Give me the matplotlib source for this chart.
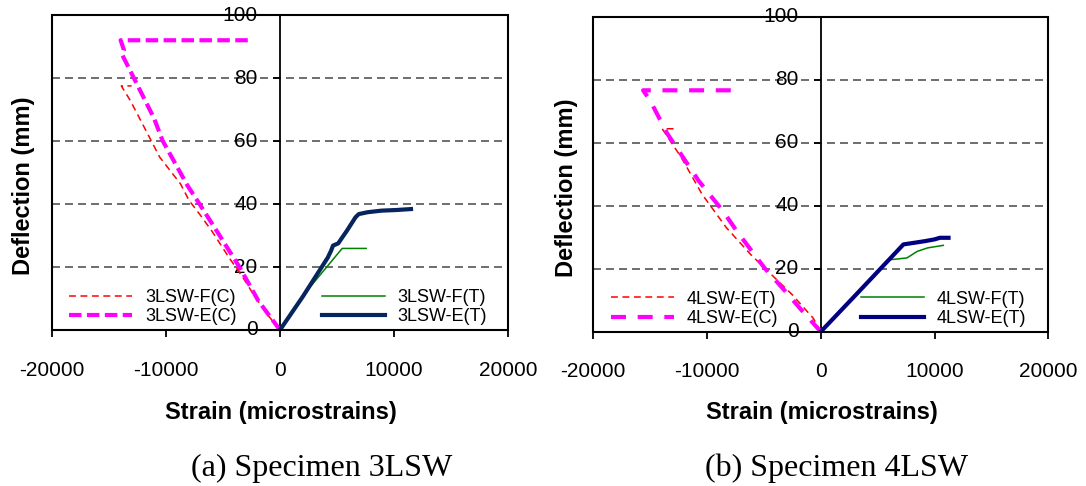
import matplotlib
matplotlib.use("Agg")
import matplotlib.pyplot as plt
from matplotlib.patches import Rectangle

plt.rcParams['font.family'] = ['Liberation Sans', 'DejaVu Sans']

# ---- Specimen 3LSW ----
s3_fc_strain = [0, -1124, -2339, -3250, -4465, -5983, -7046, -7958, -8717, -10540, -11450, -13120, -13900, -13000]
s3_fc_defl = [0, 5.0, 11.4, 16.7, 23.0, 31.5, 36.8, 41.1, 46.4, 54.9, 61.3, 72.9, 77.5, 77.5]
s3_ec_strain = [0, -1883, -3553, -5376, -7046, -8110, -10296, -11030, -12800, -13520, -13810, -13670, -13960, -2400]
s3_ec_defl = [0, 9.2, 20.0, 30.5, 40.0, 45.9, 60.2, 67.2, 80.0, 85.2, 87.3, 88.9, 92.0, 92.0]
s3_ft_strain = [0, 2100, 4600, 5450, 7550]
s3_ft_defl = [0, 11.3, 22.2, 25.9, 25.9]
s3_et_strain = [0, 2000, 4190, 4480, 4647, 5100, 5860, 6620, 6900, 7684, 8900, 10200, 11480]
s3_et_defl = [0, 10.6, 23.0, 25.2, 26.8, 27.5, 31.5, 35.8, 36.8, 37.4, 37.9, 38.1, 38.4]

# ---- Specimen 4LSW ----
s4_et2_strain = [0, -671, -2502, -4333, -6163, -8300, -10435, -12265, -13944, -12570]
s4_et2_defl = [0, 4.3, 11.7, 18.1, 24.5, 33.0, 43.6, 55.3, 64.4, 64.4]
s4_ec_strain = [0, -1587, -3112, -4943, -7384, -8604, -10740, -13486, -15010, -15620, -7140]
s4_ec_defl = [0, 6.4, 12.8, 20.2, 31.9, 38.3, 47.9, 62.8, 73.4, 76.6, 76.6]
s4_ft_strain = [0, 3000, 5980, 7567, 8480, 9397, 10770]
s4_ft_defl = [0, 11.4, 22.8, 23.4, 25.5, 26.6, 27.4]
s4_et_strain = [0, 3500, 7262, 8000, 9092, 10008, 10465, 11228]
s4_et_defl = [0, 13.3, 27.7, 28.1, 28.7, 29.3, 29.8, 29.8]

x_ticks = [-20000, -10000, 0, 10000, 20000]
y_ticks = [0, 20, 40, 60, 80, 100]

fig = plt.figure(figsize=(10.86, 4.86), dpi=100)
ax1 = fig.add_axes([0.0476, 0.321, 0.4204, 0.648])
ax2 = fig.add_axes([0.5463, 0.3175, 0.4190, 0.6484])


def style_axes(ax):
    ax.set_xlim(-20000, 20000)
    ax.set_ylim(0, 100)
    for side in ('top', 'right', 'bottom'):
        ax.spines[side].set_visible(False)
    ax.spines['left'].set_position(('data', 0))
    ax.spines['left'].set_linewidth(1.3)
    ax.add_patch(Rectangle((0, 0), 1, 1, transform=ax.transAxes, fill=False,
                           lw=1.5, ec='black', clip_on=False, zorder=5))
    ax.set_xticks(x_ticks)
    ax.set_xticklabels([str(t) for t in x_ticks])
    ax.set_yticks(y_ticks)
    ax.set_yticklabels([str(t) for t in y_ticks])
    ax.tick_params(axis='x', direction='out', length=5, width=1.3, pad=17, labelsize=15)
    ax.tick_params(axis='y', direction='out', length=5, width=1.3, pad=11, labelsize=15)
    for lab in ax.get_yticklabels():
        lab.set_verticalalignment('center')
    ax.yaxis.grid(True, color='#555555', lw=1.2, linestyle=(0, (4.8, 3.0)))
    ax.xaxis.grid(False)
    ax.set_axisbelow(True)


style_axes(ax1)
style_axes(ax2)

# Left panel curves
l1, = ax1.plot(s3_fc_strain, s3_fc_defl, color='#ff0000', lw=1.1, dashes=(4.5, 3.0), zorder=3)
l2, = ax1.plot(s3_ec_strain, s3_ec_defl, color='#ff00ff', lw=3.0, dashes=(3.0, 1.3), zorder=4)
l3, = ax1.plot(s3_ft_strain, s3_ft_defl, color='#008000', lw=1.1, zorder=3)
l4, = ax1.plot(s3_et_strain, s3_et_defl, color='#06245e', lw=3.0, zorder=4)

# Right panel curves
r1, = ax2.plot(s4_et2_strain, s4_et2_defl, color='#ff0000', lw=1.1, dashes=(4.5, 3.0), zorder=3)
r2, = ax2.plot(s4_ec_strain, s4_ec_defl, color='#ff00ff', lw=3.0, dashes=(3.6, 2.8), zorder=4)
r3, = ax2.plot(s4_ft_strain, s4_ft_defl, color='#008000', lw=1.1, zorder=3)
r4, = ax2.plot(s4_et_strain, s4_et_defl, color='#000080', lw=3.0, zorder=4)

leg_kw = dict(frameon=False, fontsize=13, handlelength=3.5, handletextpad=0.7,
              labelspacing=0.12, borderpad=0, borderaxespad=0, loc='lower left')

lg = ax1.legend([l1, l2], ['3LSW-F(C)', '3LSW-E(C)'], bbox_to_anchor=(0.038, 0.015), **leg_kw)
ax1.add_artist(lg)
ax1.legend([l3, l4], ['3LSW-F(T)', '3LSW-E(T)'], bbox_to_anchor=(0.592, 0.015), **leg_kw)

lg = ax2.legend([r1, r2], ['4LSW-E(T)', '4LSW-E(C)'], bbox_to_anchor=(0.039, 0.015), **leg_kw)
ax2.add_artist(lg)
ax2.legend([r3, r4], ['4LSW-F(T)', '4LSW-E(T)'], bbox_to_anchor=(0.588, 0.015), **leg_kw)

# Axis titles
for ax, ylx, xly in ((ax1, -0.061, -0.263), (ax2, -0.058, -0.258)):
    ax.text(ylx, 0.457, 'Deflection (mm)', transform=ax.transAxes, rotation=90,
            ha='center', va='center', fontsize=17, fontweight='bold')
    ax.text(0.503, xly, 'Strain (microstrains)', transform=ax.transAxes,
            ha='center', va='center', fontsize=17, fontweight='bold')

fig.text(322 / 1086, 1 - 468 / 486, '(a) Specimen 3LSW', ha='center', va='center',
         fontsize=23, family=['Liberation Serif', 'DejaVu Serif'])
fig.text(836.5 / 1086, 1 - 468 / 486, '(b) Specimen 4LSW', ha='center', va='center',
         fontsize=23, family=['Liberation Serif', 'DejaVu Serif'])

fig.savefig('out.png', dpi=100)
